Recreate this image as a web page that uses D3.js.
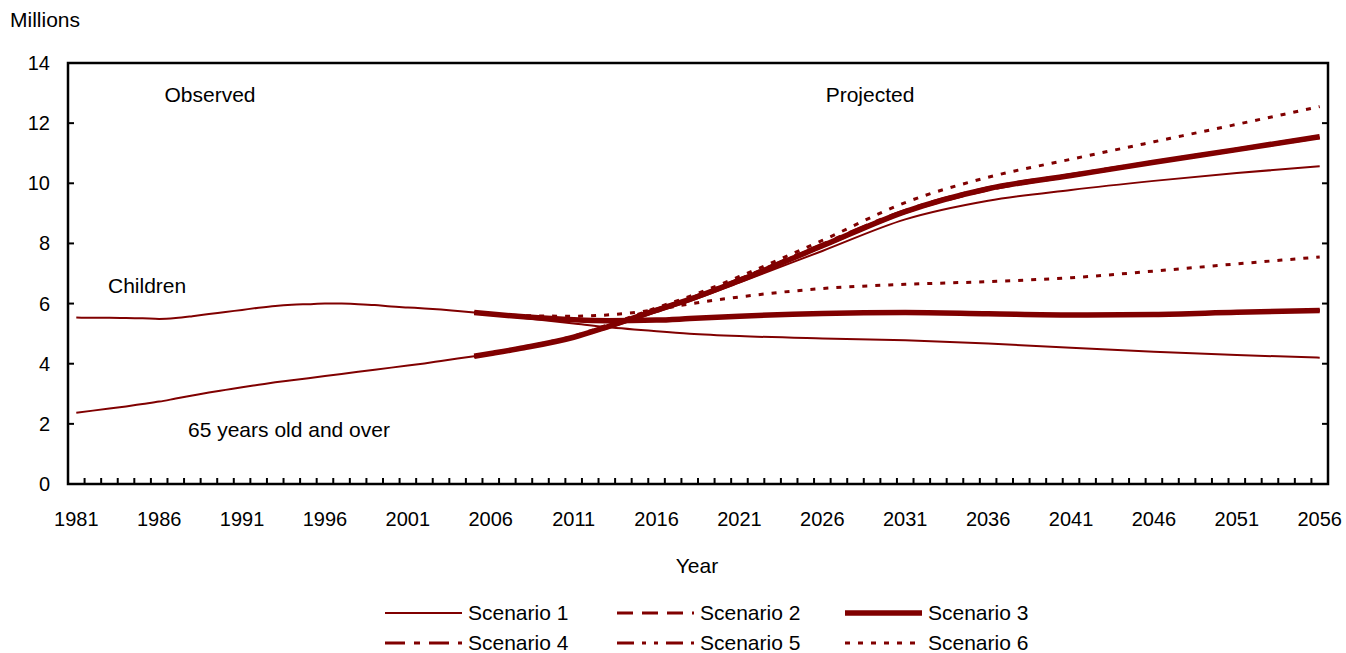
<!DOCTYPE html>
<html><head><meta charset="utf-8">
<script src="https://cdn.jsdelivr.net/npm/d3@7"></script>
<style>
html,body{margin:0;padding:0;background:#fff;}
svg text{font-family:"Liberation Sans",Arial,Helvetica,sans-serif;fill:#000;}
</style></head>
<body><svg id="c" width="1346" height="653"></svg>
<script>
// ---- data ----
const obsYears = [1981,1982,1983,1984,1985,1986,1987,1988,1989,1990,1991,1992,1993,1994,1995,1996,1997,1998,1999,2000,2001,2002,2003,2004,2005];
const obsChildren = [5.54,5.53,5.53,5.52,5.51,5.49,5.52,5.58,5.65,5.72,5.79,5.86,5.92,5.96,5.98,6.00,6.00,5.98,5.95,5.90,5.87,5.84,5.80,5.75,5.70];
const obsSeniors  = [2.37,2.44,2.51,2.58,2.66,2.74,2.84,2.94,3.04,3.13,3.22,3.30,3.38,3.45,3.52,3.59,3.66,3.73,3.80,3.87,3.94,4.01,4.09,4.17,4.25];

const projYears = [2005,2006,2008,2011,2013,2016,2018,2021,2026,2031,2036,2041,2046,2051,2056];
const childrenS1 = [5.70,5.64,5.52,5.34,5.22,5.08,5.00,4.92,4.84,4.78,4.67,4.53,4.40,4.29,4.20];
const childrenS2 = [5.70,5.65,5.56,5.46,5.43,5.45,5.49,5.57,5.66,5.69,5.65,5.61,5.63,5.70,5.76];
const childrenS3 = [5.70,5.65,5.56,5.46,5.43,5.45,5.50,5.58,5.67,5.70,5.66,5.62,5.64,5.71,5.77];
const childrenS4 = [5.70,5.65,5.56,5.46,5.43,5.46,5.51,5.59,5.68,5.71,5.67,5.63,5.65,5.72,5.78];
const childrenS5 = [5.70,5.65,5.56,5.46,5.43,5.45,5.50,5.58,5.66,5.70,5.66,5.62,5.64,5.71,5.77];
const childrenS6 = [5.70,5.66,5.60,5.58,5.62,5.80,5.99,6.22,6.50,6.64,6.73,6.86,7.08,7.32,7.55];

const seniorsS1 = [4.25,4.33,4.52,4.85,5.18,5.72,6.08,6.70,7.75,8.80,9.42,9.78,10.08,10.34,10.57];
const seniorsS2 = [4.25,4.34,4.53,4.87,5.21,5.77,6.13,6.76,7.90,9.03,9.78,10.24,10.68,11.10,11.52];
const seniorsS3 = [4.25,4.34,4.53,4.88,5.22,5.78,6.14,6.77,7.92,9.06,9.82,10.26,10.70,11.12,11.55];
const seniorsS4 = [4.25,4.34,4.54,4.89,5.24,5.81,6.18,6.82,7.98,9.10,9.85,10.29,10.72,11.14,11.57];
const seniorsS5 = [4.25,4.34,4.53,4.88,5.23,5.79,6.16,6.80,7.95,9.08,9.83,10.27,10.71,11.13,11.56];
const seniorsS6 = [4.25,4.35,4.56,4.92,5.28,5.86,6.24,6.90,8.10,9.36,10.20,10.80,11.38,11.96,12.55];

const yTicks = [0,2,4,6,8,10,12,14];
const xLabelYears = [1981,1986,1991,1996,2001,2006,2011,2016,2021,2026,2031,2036,2041,2046,2051,2056];
const scenarioNames = ["Scenario 1","Scenario 2","Scenario 3","Scenario 4","Scenario 5","Scenario 6"];

// ---- styles ----
const RED = "#800000";
const styles = [
  {w:2,   dash:null},
  {w:3,   dash:"16,9"},
  {w:5.5, dash:null},
  {w:3,   dash:"20,9,6,9"},
  {w:3,   dash:"17,8,4,8,4,8"},
  {w:3,   dash:"5,8"}
];

const svg = d3.select("#c");
const L=68, R=1328, T=63, B=484;
const x = d3.scaleLinear().domain([1980.5,2056.5]).range([L,R]);
const y = d3.scaleLinear().domain([0,14]).range([B,T]);

// frame
svg.append("rect").attr("x",L).attr("y",T).attr("width",R-L).attr("height",B-T)
  .attr("fill","none").attr("stroke","#000").attr("stroke-width",2.5);

// y ticks (left and right, inward)
const g = svg.append("g");
yTicks.forEach(t=>{
  g.append("line").attr("x1",L).attr("x2",L+6).attr("y1",y(t)).attr("y2",y(t)).attr("stroke","#000").attr("stroke-width",2);
  g.append("line").attr("x1",R-6).attr("x2",R).attr("y1",y(t)).attr("y2",y(t)).attr("stroke","#000").attr("stroke-width",2);
  g.append("text").attr("x",50).attr("y",y(t)).attr("dy","0.35em").attr("text-anchor","end").attr("font-size",20).text(t);
});
// x minor ticks at boundaries
d3.range(1981.5,2056.5,1).forEach(v=>{
  g.append("line").attr("x1",x(v)).attr("x2",x(v)).attr("y1",B).attr("y2",B-6).attr("stroke","#000").attr("stroke-width",2);
});
xLabelYears.forEach(v=>{
  g.append("text").attr("x",x(v)).attr("y",526).attr("text-anchor","middle").attr("font-size",20).text(v);
});

// lines
const line = d3.line().x(d=>x(d[0])).y(d=>y(d[1])).curve(d3.curveMonotoneX);
function draw(years, vals, st){
  svg.append("path").datum(years.map((yr,i)=>[yr,vals[i]]))
    .attr("d",line).attr("fill","none").attr("stroke",RED)
    .attr("stroke-width",st.w).attr("stroke-dasharray",st.dash)
    .attr("stroke-linejoin","round");
}
draw(obsYears, obsChildren, styles[0]);
draw(obsYears, obsSeniors, styles[0]);
const childS=[childrenS1,childrenS2,childrenS3,childrenS4,childrenS5,childrenS6];
const senS=[seniorsS1,seniorsS2,seniorsS3,seniorsS4,seniorsS5,seniorsS6];
[1,3,4,0,5,2].forEach(i=>{
  draw(projYears, childS[i], styles[i]);
  draw(projYears, senS[i], styles[i]);
});

// annotations
const ann = [
  {t:"Millions", x:10, y:27, a:"start"},
  {t:"Observed", x:210, y:102, a:"middle"},
  {t:"Projected", x:870, y:102, a:"middle"},
  {t:"Children", x:108, y:293, a:"start"},
  {t:"65 years old and over", x:188, y:437, a:"start"},
  {t:"Year", x:697, y:573, a:"middle"}
];
ann.forEach(d=>svg.append("text").attr("x",d.x).attr("y",d.y).attr("text-anchor",d.a).attr("font-size",21).text(d.t));

// legend
const cols=[385,617,845], rows=[613,643];
scenarioNames.forEach((n,i)=>{
  const cx=cols[i%3], cy=rows[Math.floor(i/3)];
  const st=styles[i];
  svg.append("line").attr("x1",cx).attr("x2",cx+77).attr("y1",cy).attr("y2",cy)
    .attr("stroke",RED).attr("stroke-width",st.w).attr("stroke-dasharray",st.dash);
  svg.append("text").attr("x",cx+83).attr("y",cy).attr("dy","0.35em").attr("font-size",21).text(n);
});
</script></body></html>
